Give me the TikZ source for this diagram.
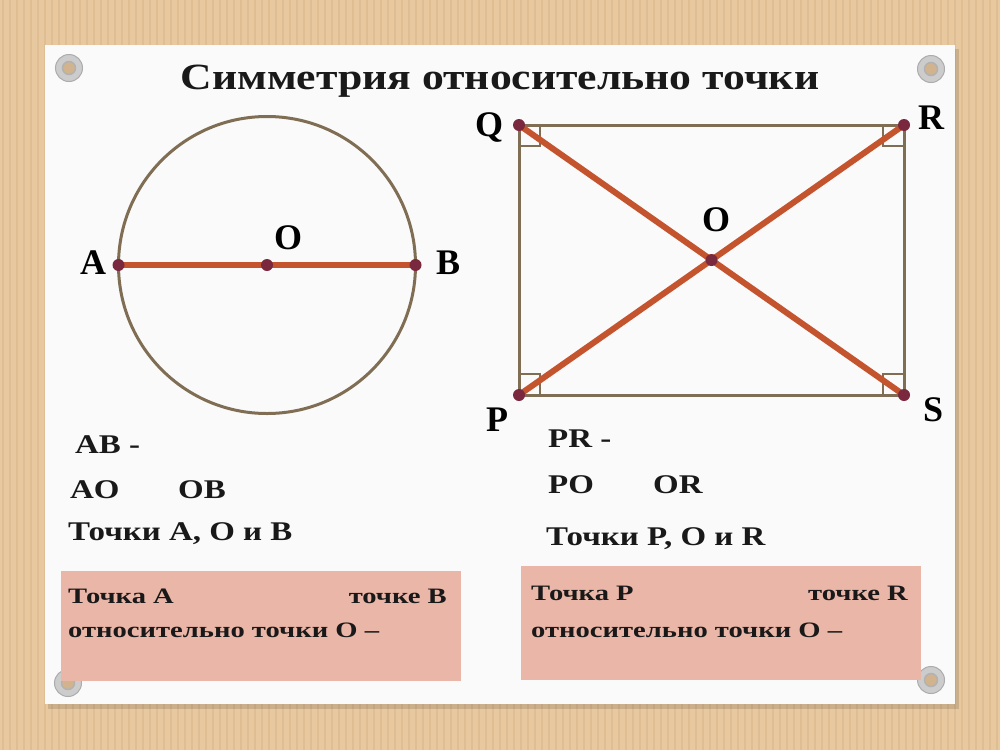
\documentclass[tikz,border=0pt]{standalone}
\usepackage{fontspec}
\setmainfont{Liberation Serif}
\newfontfamily\titlefont[FakeStretch=1.18]{Liberation Serif}
\newfontfamily\txtfont[FakeStretch=1.22]{Liberation Serif}
\newfontfamily\boxfont[FakeStretch=1.3]{Liberation Serif}
\usetikzlibrary{calc}
\begin{document}
\begin{tikzpicture}[x=1pt,y=-1pt,
  figline/.style={draw=figbrown,line width=3pt},
  redline/.style={draw=segred,line width=6pt},
  dot/.style={circle,fill=dotmaroon,inner sep=0pt,minimum size=12pt},
  lbl/.style={font=\bfseries\fontsize{36}{40}\selectfont,text=black,inner sep=0pt},
  txt/.style={font=\txtfont\bfseries\fontsize{27}{32}\selectfont,text=black!90,inner sep=0pt,anchor=base west},
  boxtxt/.style={font=\boxfont\bfseries\fontsize{22}{26}\selectfont,text=black!90,inner sep=0pt},
  grommet/.style={circle,fill=gray!40,draw=gray!65,line width=1pt,minimum size=27pt,inner sep=0pt},
  hole/.style={circle,fill=tanbg!90!black,draw=gray!60,line width=1.5pt,minimum size=13pt,inner sep=0pt}
]
\definecolor{tanbg}{RGB}{232,200,158}
\definecolor{tanstripe}{RGB}{216,182,138}
\definecolor{figbrown}{RGB}{128,110,84}
\definecolor{segred}{RGB}{196,84,46}
\definecolor{dotmaroon}{RGB}{122,40,62}
\definecolor{pinkfill}{RGB}{234,182,168}
\useasboundingbox (0,0) rectangle (1000,750);
% background
\fill[tanbg] (0,0) rectangle (1000,750);
\foreach \x in {3,10,...,1000} {\draw[tanstripe,line width=2.2pt,opacity=0.5] (\x,0) -- (\x,750);}
% panel shadow and panel
\fill[black,opacity=0.12] (48,49) rectangle (959,709);
\fill[white!96!gray] (45,45) rectangle (955,704);
% grommets
\node[grommet] (g1) at (69,68) {};
\node[hole] (h1) at (69,68) {};
\node[grommet] (g2) at (931,69) {};
\node[hole] (h2) at (931,69) {};
\node[grommet] (g3) at (68,683) {};
\node[hole] (h3) at (68,683) {};
\node[grommet] (g4) at (931,680) {};
\node[hole] (h4) at (931,680) {};
% title
\node[font=\titlefont\bfseries\fontsize{37}{44}\selectfont,text=black!90,inner sep=0pt,anchor=base] (title) at (500,89) {Симметрия относительно точки};
% circle
\coordinate (cc) at (267,265);
\draw[figline] (cc) circle (148.5);
\coordinate (A) at (118.5,265);
\coordinate (B) at (415.5,265);
\draw[redline] (A) -- (B);
\node[dot] (dA) at (A) {};
\node[dot] (dO1) at (cc) {};
\node[dot] (dB) at (B) {};
\node[lbl] (lA) at (93,263) {A};
\node[lbl] (lO1) at (288,238) {O};
\node[lbl] (lB) at (448,263) {B};
% rectangle
\coordinate (Q) at (519,125);
\coordinate (R) at (904,125);
\coordinate (S) at (904,395);
\coordinate (P) at (519,395);
\draw[figline] (Q) -- (R) -- (S) -- (P) -- cycle;
\draw[draw=figbrown,line width=2pt] ($(Q)+(0,21)$) -- ++(21,0) -- ++(0,-21);
\draw[draw=figbrown,line width=2pt] ($(R)+(0,21)$) -- ++(-21,0) -- ++(0,-21);
\draw[draw=figbrown,line width=2pt] ($(S)+(0,-21)$) -- ++(-21,0) -- ++(0,21);
\draw[draw=figbrown,line width=2pt] ($(P)+(0,-21)$) -- ++(21,0) -- ++(0,21);
\draw[redline] (Q) -- (S);
\draw[redline] (P) -- (R);
\node[dot] (dQ) at (Q) {};
\node[dot] (dR) at (R) {};
\node[dot] (dS) at (S) {};
\node[dot] (dP) at (P) {};
\node[dot] (dO2) at (711.5,260) {};
\node[lbl] (lQ) at (489,127) {Q};
\node[lbl] (lR) at (931,118) {R};
\node[lbl] (lS) at (933,410) {S};
\node[lbl] (lP) at (497,420) {P};
\node[lbl] (lO2) at (716,220) {O};
% texts left
\node[txt] (t1) at (75,453) {AB -};
\node[txt] (t2) at (70,498) {AO};
\node[txt] (t3) at (178,498) {OB};
\node[txt] (t4) at (68,540) {Точки A, O и B};
% texts right
\node[txt] (t5) at (548,447) {PR -};
\node[txt] (t6) at (548,493) {PO};
\node[txt] (t7) at (653,493) {OR};
\node[txt] (t8) at (546,545) {Точки P, O и R};
% pink boxes
\fill[pinkfill] (61,571) rectangle (461,681);
\fill[pinkfill] (521,566) rectangle (921,680);
\node[boxtxt,anchor=base west] (b1) at (68,603) {Точка A};
\node[boxtxt,anchor=base east] (b2) at (447,603) {точке B};
\node[boxtxt,anchor=base west] (b3) at (68,637) {относительно точки O –};
\node[boxtxt,anchor=base west] (b4) at (531,600) {Точка P};
\node[boxtxt,anchor=base east] (b5) at (908,600) {точке R};
\node[boxtxt,anchor=base west] (b6) at (531,637) {относительно точки O –};
\end{tikzpicture}
\end{document}
